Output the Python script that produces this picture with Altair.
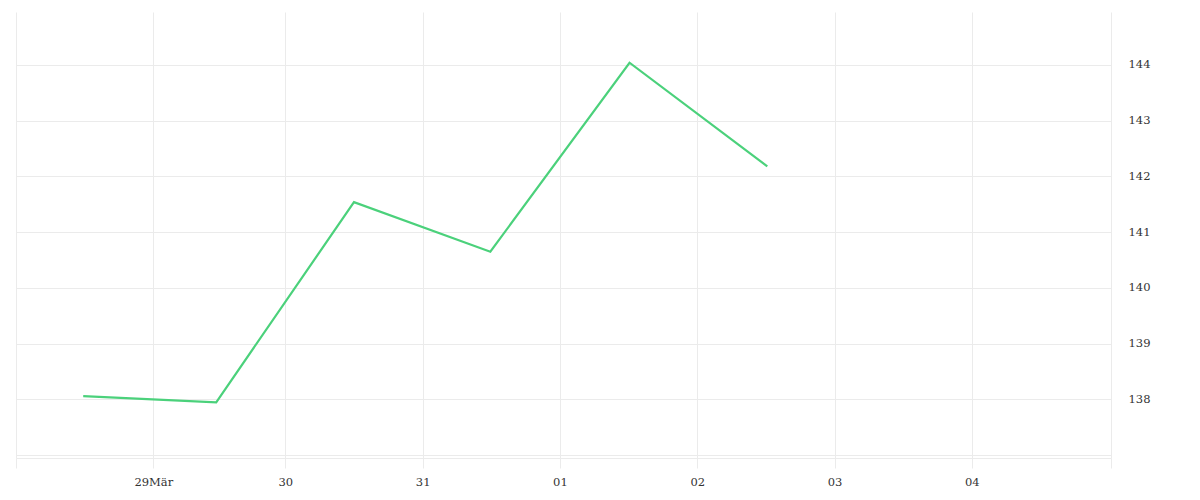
import altair as alt
import pandas as pd

dates = ["2024-03-28T12:40:00", "2024-03-29T11:55:00", "2024-03-30T12:00:00",
         "2024-03-31T11:50:00", "2024-04-01T12:10:00", "2024-04-02T12:15:00"]
values = [138.06, 137.95, 141.54, 140.65, 144.04, 142.18]

# day gridlines (first two sit about an hour later, as in the reference)
x_grid = [(3, 28, 0, 55), (3, 29, 0, 55), (3, 30, 0, 0), (3, 31, 0, 0),
          (4, 1, 0, 0), (4, 2, 0, 0), (4, 3, 0, 0), (4, 4, 0, 0), (4, 5, 0, 20)]
x_start = (3, 28, 0, 55)
x_end = (4, 5, 0, 20)
y_ticks = [137, 138, 139, 140, 141, 142, 143, 144]

df = pd.DataFrame({"t": dates, "v": values})

grid = "#ebebeb"
font = "DejaVu Serif"


def dt(t):
    m, d, h, mi = t
    return alt.DateTime(year=2024, month=m, date=d, hours=h, minutes=mi)


label_expr = (
    "(month(datum.value) == 2 && date(datum.value) == 28) || (month(datum.value) == 3 && date(datum.value) == 5) ? '' : "
    "(month(datum.value) == 2 && date(datum.value) == 29 ? '29Mär' : timeFormat(datum.value, '%d'))"
)

chart = alt.Chart(df).mark_line(color="#4bd17b", strokeWidth=2.2).encode(
    x=alt.X("t:T",
            scale=alt.Scale(domain=[dt(x_start), dt(x_end)]),
            axis=alt.Axis(title=None, values=[dt(t) for t in x_grid], labelExpr=label_expr,
                          grid=True, gridColor=grid, domainColor=grid,
                          tickColor=grid, tickSize=10, labelPadding=8,
                          labelFont=font, labelFontSize=11.5, labelColor="#333333",
                          labelFlush=False, labelOverlap=False)),
    y=alt.Y("v:Q",
            scale=alt.Scale(domain=[136.95, 144.95], nice=False, zero=False),
            axis=alt.Axis(title=None, orient="right", values=y_ticks,
                          labelExpr="datum.value == 137 ? '' : datum.label",
                          grid=True, gridColor=grid, domain=False, ticks=False,
                          labelPadding=17, labelFont=font, labelFontSize=11.5,
                          labelColor="#333333", labelFlush=False)),
).properties(
    width=1095, height=446,
    padding={"left": 7, "top": 4, "right": 5, "bottom": 5},
).configure_view(stroke=None)

chart.save("out.html", embed_options={"renderer": "svg", "actions": False})
